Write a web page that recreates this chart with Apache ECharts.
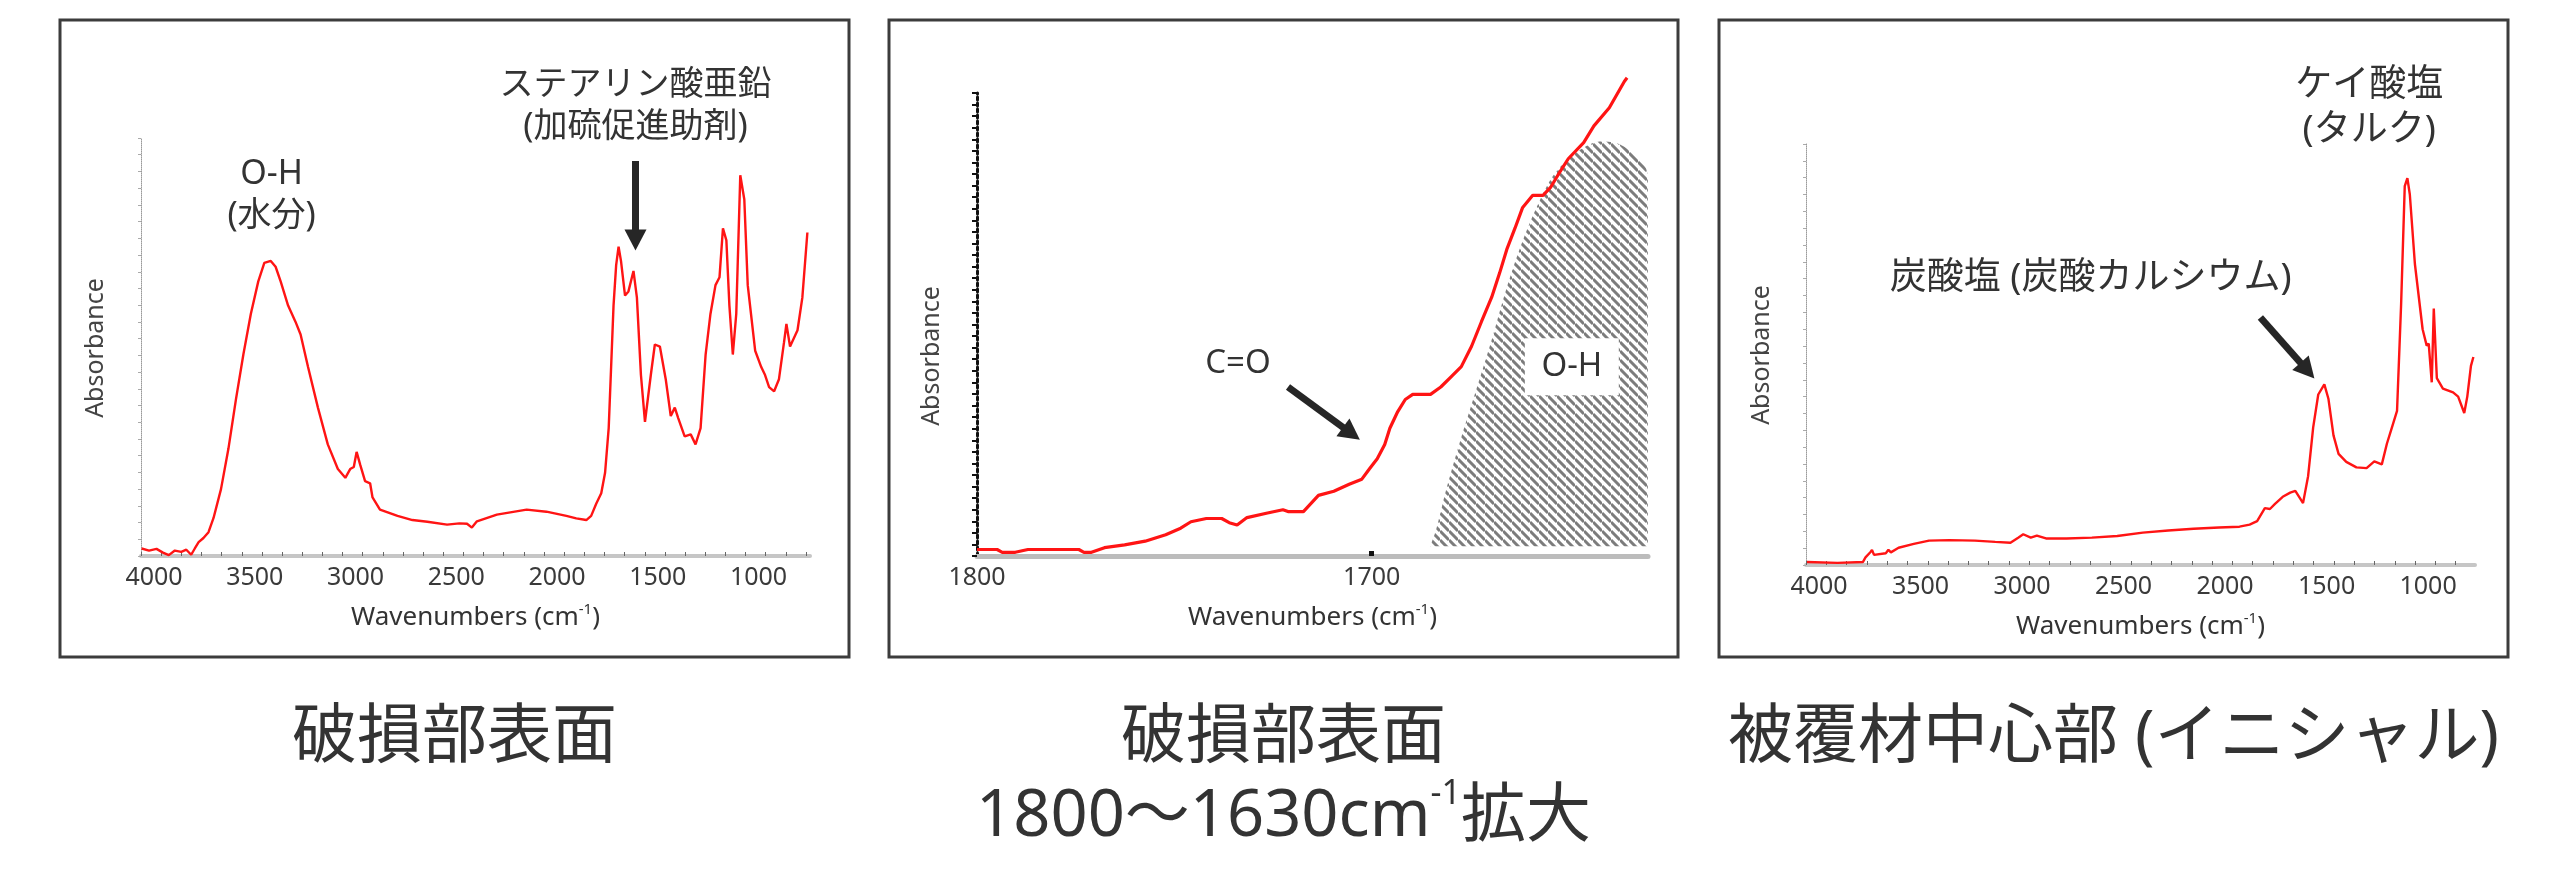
<!DOCTYPE html>
<html lang="ja" style="height: 100%">

<head>
    <meta charset="utf-8">
</head>

<body style="height: 100%; margin: 0; background: #fff">
    <div id="container" style="width: 2560px; height: 874px"></div>
    <script type="text/javascript" src="https://fastly.jsdelivr.net/npm/echarts@6.0.0/dist/echarts.min.js"></script>
    <script type="text/javascript">
    // ---- 破損部表面 (panel 1) ----
    const p1Wn = [3997, 3960, 3923, 3891, 3862, 3832, 3800, 3775, 3751, 3733, 3714, 3690, 3665, 3640, 3603, 3566, 3529, 3492, 3455, 3418,
        3388, 3356, 3332, 3307, 3270, 3233, 3208, 3171, 3122, 3073, 3023, 2986, 2962, 2944, 2930, 2912, 2888, 2863, 2851, 2814,
        2727, 2653, 2579, 2481, 2420, 2382, 2358, 2333, 2234, 2086, 1988, 1889, 1840, 1790, 1766, 1741, 1716, 1697, 1679, 1667,
        1655, 1642, 1630, 1618, 1598, 1581, 1556, 1539, 1519, 1499, 1470, 1450, 1425, 1396, 1371, 1351, 1334, 1302, 1272, 1248,
        1223, 1198, 1174, 1149, 1129, 1112, 1095, 1080, 1063, 1046, 1026, 1006, 989, 952, 922, 903, 883, 858, 834, 809,
        797, 779, 742, 718, 693];
    const p1Abs = [1.8, 1.3, 1.7, 0.8, 0.2, 1.3, 1.0, 1.5, 0.3, 1.8, 3.3, 4.3, 5.7, 9.1, 16.0, 25.7, 37.4, 48.2, 57.9, 65.7,
        70.1, 70.6, 69.2, 65.7, 59.9, 56.0, 53.0, 45.2, 35.5, 26.7, 20.8, 18.7, 20.8, 21.3, 24.9, 21.8, 17.9, 17.4, 14.0, 11.1,
        9.6, 8.6, 8.2, 7.5, 7.8, 7.7, 6.8, 8.3, 9.9, 11.1, 10.6, 9.6, 9.0, 8.6, 9.6, 12.5, 15.0, 19.9, 30.6, 45.2,
        59.9, 69.6, 74.0, 70.6, 62.3, 63.3, 68.2, 61.8, 43.3, 32.1, 43.3, 50.6, 50.1, 42.3, 33.5, 35.5, 33.0, 28.6, 29.1, 26.7,
        30.6, 48.2, 57.9, 64.8, 66.7, 78.4, 75.5, 59.9, 48.2, 57.9, 91.1, 85.3, 64.8, 49.1, 45.2, 43.3, 40.4, 39.4, 42.3, 51.1,
        55.5, 50.1, 54.0, 61.8, 77.4];

    // ---- 破損部表面 1800〜1630 拡大 (panel 2) ----
    const p2Wn = [1800, 1794.9, 1793.6, 1790.3, 1787.1, 1774.2, 1772.9, 1771, 1767.7, 1762.6, 1757.4, 1752.2, 1748.4, 1745.8, 1741.9, 1738,
        1736.1, 1734.1, 1731.6, 1726.4, 1722.5, 1721.2, 1717.3, 1713.5, 1709.6, 1705.7, 1702.5, 1700.6, 1698.6, 1696.7, 1695.4, 1693.4,
        1691.5, 1689.6, 1685.1, 1682.5, 1679.9, 1677.3, 1674.7, 1672.2, 1669.6, 1667.6, 1665.7, 1663.7, 1661.8, 1659.2, 1656.6, 1654.7,
        1652.8, 1650.2, 1646.3, 1643.7, 1639.8, 1636, 1635.3];
    const p2Abs = [1.4, 1.4, 0.8, 0.8, 1.4, 1.4, 0.8, 0.8, 1.8, 2.4, 3.2, 4.6, 6.0, 7.4, 8.1, 8.1,
        7.2, 6.7, 8.3, 9.3, 10.0, 9.6, 9.6, 13.1, 14.0, 15.5, 16.6, 18.8, 21.0, 24.1, 27.6, 31.2,
        33.8, 34.9, 34.9, 36.5, 38.7, 40.9, 45.3, 50.6, 55.9, 61.1, 66.4, 70.8, 75.2, 77.9, 77.9, 79.6,
        82.3, 85.8, 89.3, 92.9, 96.8, 102.5, 103.3];
    // O-H band (hatched)
    const ohWn = [1685.2, 1683.7, 1681.1, 1677.2, 1673.3, 1669.5, 1665.6, 1661.7, 1657.8, 1653.9, 1648.8, 1643.6, 1641, 1637.1, 1633.3, 1630.7, 1630.05];
    const ohAbs = [2.1, 5.6, 14.4, 25.9, 36.5, 47.0, 58.5, 68.2, 76.1, 82.3, 86.7, 89.3, 89.5, 88.9, 86.7, 84.0, 82.3];
    const ohBase = 2.1;

    // ---- 被覆材中心部 (panel 3) ----
    const p3Wn = [3995, 3845, 3720, 3707, 3682, 3675, 3665, 3607, 3594, 3582, 3544, 3469, 3394, 3294, 3168, 3068, 2993, 2955, 2930, 2893,
        2863, 2818, 2717, 2592, 2467, 2341, 2216, 2091, 1966, 1865, 1815, 1778, 1740, 1715, 1690, 1652, 1615, 1590, 1565, 1552,
        1527, 1502, 1477, 1447, 1427, 1402, 1377, 1339, 1289, 1239, 1201, 1164, 1139, 1114, 1089, 1069, 1051, 1038, 1026, 1001,
        963, 943, 933, 918, 908, 893, 863, 813, 788, 758, 743, 725, 713];
    const p3Abs = [0.7, 0.5, 0.7, 1.8, 3.1, 3.6, 2.4, 2.8, 3.6, 3.0, 4.1, 5.0, 5.8, 5.9, 5.8, 5.5, 5.3, 6.5, 7.3, 6.5,
        7.0, 6.3, 6.3, 6.5, 6.9, 7.7, 8.2, 8.6, 8.9, 9.1, 9.6, 10.4, 13.5, 13.3, 14.5, 16.2, 17.2, 17.6, 15.7, 14.7,
        21.1, 32.7, 40.5, 42.9, 39.5, 30.8, 26.4, 24.5, 23.2, 23.0, 24.6, 23.9, 28.8, 32.7, 36.6, 61.8, 90.0, 91.9, 88.0, 71.5,
        56.0, 52.1, 52.6, 43.4, 60.9, 44.4, 41.9, 41.0, 40.0, 36.1, 40.0, 47.3, 49.4];

    // tick labels
    const wideTicks = [4000, 3500, 3000, 2500, 2000, 1500, 1000];
    const zoomTicks = [1800, 1700];

    // annotations (data coordinates of each panel)
    const annoText = ['O-H', '(水分)', 'ステアリン酸亜鉛', '(加硫促進助剤)', 'C=O', 'O-H', 'ケイ酸塩', '(タルク)', '炭酸塩 (炭酸カルシウム)'];
    const annoGrid = [0, 0, 0, 0, 1, 1, 2, 2, 2];
    const annoWn = [3352, 3352, 1546, 1546, 1733.9, 1649.3, 1226, 1226, 2598];
    const annoAbs = [91.4, 81.3, 112.6, 102.6, 41.5, 41, 113.8, 103.1, 68.1];
    const arrowGrid = [0, 1, 2];
    const arrowFromWn = [1546, 1721.2, 1762];
    const arrowFromAbs = [94.5, 36.5, 58.8];
    const arrowToWn = [1546, 1703, 1496];
    const arrowToAbs = [73.1, 25.1, 44.3];

    const captions = ['破損部表面', '破損部表面', '被覆材中心部 (イニシャル)'];

    const FONT = '"Noto Sans", "Noto Sans CJK JP", sans-serif';
    const RED = '#ff1414';
    const TXT = '#333';

    function pairs(xs, ys) {
        return xs.map((x, i) => [x, ys[i]]);
    }

    function stepTicks(from, to, step) {
        const out = [];
        for (let v = from; v >= to; v -= step) out.push(v);
        return out;
    }

    function plain(v) {
        return String(v);
    }

    function hatchPattern() {
        const s = 9;
        const c = document.createElement('canvas');
        c.width = s;
        c.height = s;
        const g = c.getContext('2d');
        g.strokeStyle = '#7c7c7c';
        g.lineWidth = 3;
        g.beginPath();
        for (let k = -1; k <= 1; k++) {
            g.moveTo(0, k * s);
            g.lineTo(s, s + k * s);
        }
        g.stroke();
        return c;
    }

    const nameRich = {
        a: { fontSize: 26, color: TXT, fontFamily: FONT, lineHeight: 32 },
        s: { fontSize: 15, color: TXT, fontFamily: FONT, lineHeight: 16, verticalAlign: 'top' }
    };

    function wideXAxis(grid, min) {
        return {
            type: 'value',
            gridIndex: grid,
            min: min,
            max: 4000,
            inverse: true,
            axisLine: { show: true, onZero: false, lineStyle: { color: '#c6c6c6', width: 4 } },
            axisTick: { show: true, inside: true, length: 4, customValues: stepTicks(4000, 700, 100), lineStyle: { color: '#666', width: 1 } },
            axisLabel: { customValues: wideTicks, formatter: plain, fontSize: 25, color: '#3a3a3a', fontFamily: FONT, margin: 9, padding: [0, 0, 0, 26] },
            splitLine: { show: false },
            name: '{a|Wavenumbers (cm}{s|-1}{a|)}',
            nameLocation: 'middle',
            nameGap: 46,
            nameTextStyle: { rich: nameRich }
        };
    }

    function lightYAxis(grid) {
        return {
            type: 'value',
            gridIndex: grid,
            min: 0,
            max: 100,
            axisLine: { show: true, lineStyle: { color: '#9a9a9a', width: 1, type: 'dotted' } },
            axisTick: { show: true, length: 3, customValues: stepTicks(100, 0, 4), lineStyle: { color: '#aaa', width: 1 } },
            axisLabel: { show: false },
            splitLine: { show: false }
        };
    }

    const dom = document.getElementById('container');
    const myChart = echarts.init(dom, null, { renderer: 'canvas' });

    const option = {
        animation: false,
        backgroundColor: '#fff',
        grid: [
            { left: 141, top: 138, width: 669, height: 418 },
            { left: 977, top: 93, width: 671, height: 463 },
            { left: 1806, top: 144, width: 669, height: 421 }
        ],
        xAxis: [
            wideXAxis(0, 680),
            {
                type: 'value',
                gridIndex: 1,
                min: 1630,
                max: 1800,
                inverse: true,
                axisLine: { show: true, onZero: false, lineStyle: { color: '#bcbcbc', width: 5 } },
                axisTick: { show: true, inside: true, length: 5, customValues: [1700], lineStyle: { color: '#111', width: 5 } },
                axisLabel: { customValues: zoomTicks, formatter: plain, fontSize: 25, color: '#3a3a3a', fontFamily: FONT, margin: 9 },
                splitLine: { show: false },
                name: '{a|Wavenumbers (cm}{s|-1}{a|)}',
                nameLocation: 'middle',
                nameGap: 46,
                nameTextStyle: { rich: nameRich }
            },
            wideXAxis(2, 705)
        ],
        yAxis: [
            lightYAxis(0),
            {
                type: 'value',
                gridIndex: 1,
                min: 0,
                max: 100,
                axisLine: { show: true, lineStyle: { color: '#111', width: 3, type: 'dotted' } },
                axisTick: { show: true, length: 5, customValues: stepTicks(100, 0, 2.5), lineStyle: { color: '#111', width: 2 } },
                axisLabel: { show: false },
                splitLine: { show: false }
            },
            lightYAxis(2)
        ],
        series: [
            {
                type: 'line', xAxisIndex: 0, yAxisIndex: 0, data: pairs(p1Wn, p1Abs),
                symbol: 'none', clip: false, lineStyle: { color: RED, width: 2.4 }, z: 5
            },
            {
                type: 'line', xAxisIndex: 1, yAxisIndex: 1, data: pairs(ohWn, ohAbs),
                symbol: 'none', smooth: 0.3, lineStyle: { width: 0 },
                areaStyle: { origin: ohBase, opacity: 1, color: { image: hatchPattern(), repeat: 'repeat' } }, z: 2
            },
            {
                type: 'line', xAxisIndex: 1, yAxisIndex: 1, data: pairs(p2Wn, p2Abs),
                symbol: 'none', clip: false, lineStyle: { color: RED, width: 3.2 }, z: 5
            },
            {
                type: 'line', xAxisIndex: 2, yAxisIndex: 2, data: pairs(p3Wn, p3Abs),
                symbol: 'none', clip: false, lineStyle: { color: RED, width: 2.4 }, z: 5
            }
        ]
    };

    myChart.setOption(option);

    // frames, captions, annotations
    const frames = [[60, 20], [889, 20], [1719, 20]];
    const frameW = 789, frameH = 637;
    const absorbPos = [[96, 348], [932, 356], [1762, 355]];
    const annoFont = [34, 33, 37];
    const graphics = [];

    frames.forEach((f, i) => {
        graphics.push({
            type: 'rect', z: 100, silent: true,
            shape: { x: f[0], y: f[1], width: frameW, height: frameH },
            style: { fill: null, stroke: '#3c3c3c', lineWidth: 3 }
        });
        graphics.push({
            type: 'text', z: 100, silent: true,
            x: absorbPos[i][0], y: absorbPos[i][1], rotation: Math.PI / 2,
            style: { text: 'Absorbance', fontSize: 25, fontFamily: FONT, fill: '#444', align: 'center', verticalAlign: 'middle' }
        });
        graphics.push({
            type: 'text', z: 100, silent: true,
            x: f[0] + frameW / 2, y: 738,
            style: { text: captions[i], fontSize: 65, fontFamily: FONT, fill: TXT, align: 'center', verticalAlign: 'middle' }
        });
    });

    graphics.push({
        type: 'text', z: 100, silent: true,
        x: frames[1][0] + frameW / 2, y: 817,
        style: {
            text: '{a|1800〜1630cm}{s|-1}{a|拡大}',
            align: 'center', verticalAlign: 'middle',
            rich: {
                a: { fontSize: 65, fontFamily: FONT, fill: TXT, lineHeight: 80 },
                s: { fontSize: 34, fontFamily: FONT, fill: TXT, lineHeight: 40, verticalAlign: 'top' }
            }
        }
    });

    annoText.forEach((t, i) => {
        const p = myChart.convertToPixel({ gridIndex: annoGrid[i] }, [annoWn[i], annoAbs[i]]);
        const fs = annoFont[annoGrid[i]];
        if (annoGrid[i] === 1 && t === 'O-H') {
            graphics.push({
                type: 'rect', z: 100, silent: true,
                shape: { x: p[0] - 47, y: p[1] - 28, width: 94, height: 57 },
                style: { fill: '#fff' }
            });
        }
        graphics.push({
            type: 'text', z: 101, silent: true,
            x: p[0], y: p[1],
            style: { text: t, fontSize: fs, fontFamily: FONT, fill: TXT, align: 'center', verticalAlign: 'middle' }
        });
    });

    arrowGrid.forEach((g, i) => {
        const a = myChart.convertToPixel({ gridIndex: g }, [arrowFromWn[i], arrowFromAbs[i]]);
        const b = myChart.convertToPixel({ gridIndex: g }, [arrowToWn[i], arrowToAbs[i]]);
        const dx = b[0] - a[0], dy = b[1] - a[1];
        const len = Math.sqrt(dx * dx + dy * dy);
        const ux = dx / len, uy = dy / len;
        const nx = -uy, ny = ux;
        const L = 21, W = 22;
        const bx = b[0] - ux * L, by = b[1] - uy * L;
        graphics.push({
            type: 'line', z: 100, silent: true,
            shape: { x1: a[0], y1: a[1], x2: bx + ux * 2, y2: by + uy * 2 },
            style: { stroke: '#262626', lineWidth: 7 }
        });
        graphics.push({
            type: 'polygon', z: 100, silent: true,
            shape: { points: [[b[0], b[1]], [bx + nx * W / 2, by + ny * W / 2], [bx - nx * W / 2, by - ny * W / 2]] },
            style: { fill: '#262626' }
        });
    });

    myChart.setOption({ graphic: graphics });
    </script>
</body>

</html>
